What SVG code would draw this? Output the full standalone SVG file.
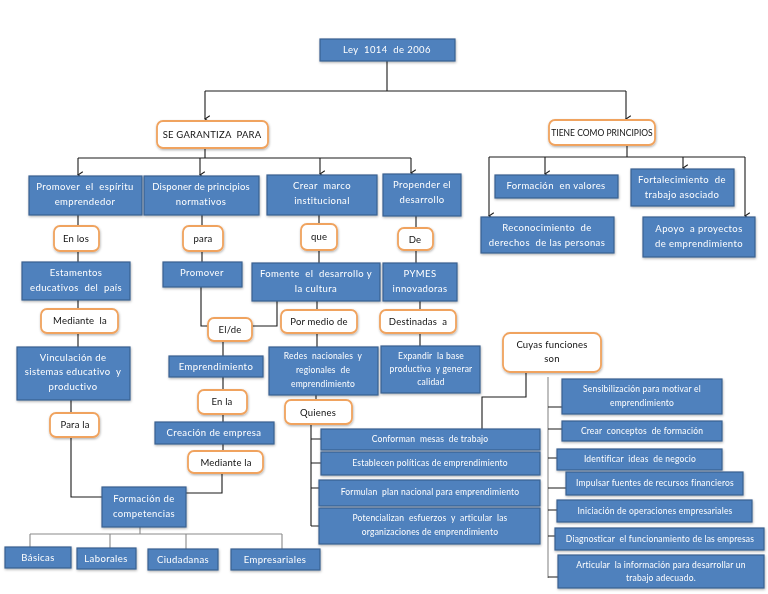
<svg xmlns="http://www.w3.org/2000/svg" width="768" height="594" viewBox="0 0 768 594">
<style>
.b{fill:#4F81BD;stroke:#3A6190;stroke-width:1.2}
.o{fill:#FFFFFF;stroke:#F0A35E;stroke-width:1.8}
.t{font-family:Lato,"Liberation Sans",sans-serif;font-size:9.5px;letter-spacing:0.4px;fill:#FFFFFF;text-anchor:middle;white-space:pre}
.s{font-size:8.5px;letter-spacing:0.2px}
.k{font-family:Lato,"Liberation Sans",sans-serif;font-size:9.5px;letter-spacing:0.2px;fill:#111111;text-anchor:middle;white-space:pre}
.l{fill:none;stroke:#1A1A1A;stroke-width:1.1}
.g{fill:none;stroke:#8A8A8A;stroke-width:1.1}
</style>
<defs>
<marker id="ar" viewBox="0 0 10 10" refX="5" refY="9" markerWidth="8" markerHeight="8" orient="auto-start-reverse" markerUnits="userSpaceOnUse">
<path d="M1,3 L5,9 L9,3" fill="none" stroke="#1A1A1A" stroke-width="1.3"/>
</marker>
<filter id="sh" x="-10%" y="-10%" width="120%" height="130%">
<feDropShadow dx="0.5" dy="1.2" stdDeviation="0.8" flood-color="#000" flood-opacity="0.3"/>
</filter>
</defs>
<rect width="768" height="594" fill="#FFFFFF"/>

<g id="connectors">
<path class="l" d="M387,61 V91 M205,91 H626"/>
<path class="l" d="M205,91 V119" marker-end="url(#ar)"/>
<path class="l" d="M626,91 V119" marker-end="url(#ar)"/>
<path class="l" d="M205,148 V158 M78,158 H411"/>
<path class="l" d="M78,158 V175" marker-end="url(#ar)"/>
<path class="l" d="M200,158 V175" marker-end="url(#ar)"/>
<path class="l" d="M320,158 V174" marker-end="url(#ar)"/>
<path class="l" d="M411,158 V173" marker-end="url(#ar)"/>
<path class="l" d="M627,145 V157 M489,157 H745"/>
<path class="l" d="M489,157 V216" marker-end="url(#ar)"/>
<path class="l" d="M545,157 V174" marker-end="url(#ar)"/>
<path class="l" d="M683,157 V168" marker-end="url(#ar)"/>
<path class="l" d="M745,157 V216" marker-end="url(#ar)"/>
<path class="l" d="M78,215 V262 M202,215 V262 M319,215 V263 M416,216 V263"/>
<path class="l" d="M78,300 V347 M71,400 V497 H102"/>
<path class="l" d="M201,287 V326 H208 M277,301 V326 H252"/>
<path class="l" d="M317,301 V347 M316,395 V400 M420,301 V346"/>
<path class="l" d="M223,342 V422 M223,444 V451 M222,473 V493 H186"/>
<path class="l" d="M311,424 V526 M311,439 H321 M311,463 H321 M311,488 H319 M311,526 H319"/>
<path class="l" d="M526,372 V397 H482 V429"/>
<path class="g" d="M548,377 V578"/>
<path class="l" d="M548,407 H562 M548,429 H562 M548,458 H557 M548,488 H566 M548,510 H557 M548,536 H555 M548,577 H558"/>
<path class="g" d="M140,527 V534 M30,534 H282 M30,534 V547 M110,534 V548 M186,534 V549 M282,534 V549"/>
</g>

<g id="n-ley" filter="url(#sh)"><rect class="b" x="320" y="39" width="135" height="22"/><text class="t" x="387" y="53">Ley  1014  de 2006</text></g>
<g id="n-garantiza" filter="url(#sh)"><rect class="o" x="157" y="121" width="111" height="27" rx="6"/><text class="k" x="212" y="138">SE GARANTIZA  PARA</text></g>
<g id="n-principios" filter="url(#sh)"><rect class="o" x="549" y="120" width="106" height="25" rx="6"/><text class="k" x="602" y="136" style="font-size:8.5px;letter-spacing:0">TIENE COMO PRINCIPIOS</text></g>

<g id="n-promover-espiritu" filter="url(#sh)"><rect class="b" x="29" y="176" width="113" height="39"/><text class="t" x="85" y="190">Promover  el  espíritu</text><text class="t" x="85" y="205">emprendedor</text></g>
<g id="n-disponer" filter="url(#sh)"><rect class="b" x="144" y="176" width="115" height="39"/><text class="t" x="201" y="190" style="letter-spacing:0.2px">Disponer de principios</text><text class="t" x="201" y="205">normativos</text></g>
<g id="n-crear" filter="url(#sh)"><rect class="b" x="267" y="175" width="110" height="40"/><text class="t" x="322" y="189">Crear  marco</text><text class="t" x="322" y="204">institucional</text></g>
<g id="n-propender" filter="url(#sh)"><rect class="b" x="383" y="174" width="78" height="42"/><text class="t" x="422" y="188">Propender el</text><text class="t" x="422" y="203">desarrollo</text></g>

<g id="n-valores" filter="url(#sh)"><rect class="b" x="495" y="175" width="123" height="23"/><text class="t" x="556" y="189">Formación  en valores</text></g>
<g id="n-fortalecimiento" filter="url(#sh)"><rect class="b" x="631" y="169" width="103" height="37"/><text class="t" x="682" y="183">Fortalecimiento  de</text><text class="t" x="682" y="198">trabajo asociado</text></g>
<g id="n-reconocimiento" filter="url(#sh)"><rect class="b" x="481" y="217" width="133" height="36"/><text class="t" x="547" y="231">Reconocimiento  de</text><text class="t" x="547" y="246">derechos  de las personas</text></g>
<g id="n-apoyo" filter="url(#sh)"><rect class="b" x="643" y="217" width="112" height="40"/><text class="t" x="699" y="232">Apoyo  a proyectos</text><text class="t" x="699" y="247">de emprendimiento</text></g>

<g id="n-enlos" filter="url(#sh)"><rect class="o" x="54" y="226" width="45" height="25" rx="6"/><text class="k" x="76" y="242">En los</text></g>
<g id="n-para" filter="url(#sh)"><rect class="o" x="183" y="226" width="40" height="25" rx="6"/><text class="k" x="203" y="242">para</text></g>
<g id="n-que" filter="url(#sh)"><rect class="o" x="301" y="224" width="36" height="26" rx="6"/><text class="k" x="319" y="240">que</text></g>
<g id="n-de" filter="url(#sh)"><rect class="o" x="398" y="228" width="35" height="22" rx="6"/><text class="k" x="415" y="243">De</text></g>

<g id="n-estamentos" filter="url(#sh)"><rect class="b" x="22" y="262" width="108" height="38"/><text class="t" x="76" y="276">Estamentos</text><text class="t" x="76" y="291">educativos  del  país</text></g>
<g id="n-promover" filter="url(#sh)"><rect class="b" x="163" y="262" width="79" height="25"/><text class="t" x="202" y="276">Promover</text></g>
<g id="n-fomente" filter="url(#sh)"><rect class="b" x="252" y="263" width="128" height="38"/><text class="t" x="316" y="277">Fomente  el  desarrollo y</text><text class="t" x="316" y="292">la cultura</text></g>
<g id="n-pymes" filter="url(#sh)"><rect class="b" x="383" y="263" width="74" height="38"/><text class="t" x="420" y="277">PYMES</text><text class="t" x="420" y="292">innovadoras</text></g>

<g id="n-mediante1" filter="url(#sh)"><rect class="o" x="41" y="309" width="77" height="24" rx="6"/><text class="k" x="80" y="324">Mediante  la</text></g>
<g id="n-elde" filter="url(#sh)"><rect class="o" x="208" y="318" width="44" height="23" rx="6"/><text class="k" x="230" y="333">El/de</text></g>
<g id="n-pormedio" filter="url(#sh)"><rect class="o" x="281" y="310" width="76" height="23" rx="6"/><text class="k" x="319" y="325">Por medio de</text></g>
<g id="n-destinadas" filter="url(#sh)"><rect class="o" x="380" y="310" width="76" height="23" rx="6"/><text class="k" x="418" y="325">Destinadas  a</text></g>

<g id="n-vinculacion" filter="url(#sh)"><rect class="b" x="17" y="347" width="113" height="53"/><text class="t" x="73" y="361">Vinculación de</text><text class="t" x="73" y="375">sistemas educativo  y</text><text class="t" x="73" y="390">productivo</text></g>
<g id="n-emprendimiento" filter="url(#sh)"><rect class="b" x="169" y="356" width="94" height="21"/><text class="t" x="216" y="370">Emprendimiento</text></g>
<g id="n-redes" filter="url(#sh)"><rect class="b" x="269" y="347" width="109" height="48"/><text class="t s" x="323" y="359">Redes  nacionales  y</text><text class="t s" x="323" y="373">regionales  de</text><text class="t s" x="323" y="387">emprendimiento</text></g>
<g id="n-expandir" filter="url(#sh)"><rect class="b" x="381" y="346" width="99" height="47"/><text class="t s" x="431" y="359">Expandir  la base</text><text class="t s" x="431" y="372">productiva  y generar</text><text class="t s" x="431" y="385">calidad</text></g>

<g id="n-cuyas" filter="url(#sh)"><rect class="o" x="503" y="333" width="98" height="39" rx="7"/><text class="k" x="552" y="348">Cuyas funciones</text><text class="k" x="552" y="362">son</text></g>

<g id="n-enla" filter="url(#sh)"><rect class="o" x="198" y="390" width="49" height="24" rx="6"/><text class="k" x="222" y="405">En la</text></g>
<g id="n-quienes" filter="url(#sh)"><rect class="o" x="285" y="400" width="67" height="24" rx="6"/><text class="k" x="318" y="416">Quienes</text></g>
<g id="n-parala" filter="url(#sh)"><rect class="o" x="50" y="413" width="49" height="24" rx="6"/><text class="k" x="75" y="428">Para la</text></g>
<g id="n-creacion" filter="url(#sh)"><rect class="b" x="155" y="422" width="119" height="22"/><text class="t" x="214" y="436">Creación de empresa</text></g>
<g id="n-mediante2" filter="url(#sh)"><rect class="o" x="188" y="451" width="75" height="22" rx="6"/><text class="k" x="226" y="466">Mediante la</text></g>

<g id="n-conforman" filter="url(#sh)"><rect class="b" x="321" y="429" width="219" height="21"/><text class="t s" x="430" y="442">Conforman  mesas  de trabajo</text></g>
<g id="n-establecen" filter="url(#sh)"><rect class="b" x="321" y="452" width="219" height="23"/><text class="t s" x="430" y="466">Establecen políticas de emprendimiento</text></g>
<g id="n-formulan" filter="url(#sh)"><rect class="b" x="319" y="480" width="221" height="26"/><text class="t s" x="430" y="495">Formulan  plan nacional para emprendimiento</text></g>
<g id="n-potencializan" filter="url(#sh)"><rect class="b" x="319" y="508" width="221" height="36"/><text class="t s" x="430" y="521">Potencializan  esfuerzos  y  articular  las</text><text class="t s" x="430" y="535">organizaciones de emprendimiento</text></g>

<g id="n-sensibilizacion" filter="url(#sh)"><rect class="b" x="562" y="379" width="160" height="35"/><text class="t s" x="642" y="392">Sensibilización para motivar el</text><text class="t s" x="642" y="406">emprendimiento</text></g>
<g id="n-conceptos" filter="url(#sh)"><rect class="b" x="562" y="421" width="160" height="20"/><text class="t s" x="642" y="434">Crear  conceptos  de formación</text></g>
<g id="n-identificar" filter="url(#sh)"><rect class="b" x="557" y="449" width="165" height="21"/><text class="t s" x="640" y="462">Identificar  ideas  de negocio</text></g>
<g id="n-impulsar" filter="url(#sh)"><rect class="b" x="566" y="472" width="177" height="23"/><text class="t s" x="655" y="486">Impulsar fuentes de recursos financieros</text></g>
<g id="n-iniciacion" filter="url(#sh)"><rect class="b" x="557" y="500" width="195" height="22"/><text class="t s" x="655" y="514">Iniciación de operaciones empresariales</text></g>
<g id="n-diagnosticar" filter="url(#sh)"><rect class="b" x="555" y="528" width="209" height="22"/><text class="t s" x="660" y="542">Diagnosticar  el funcionamiento de las empresas</text></g>
<g id="n-articular" filter="url(#sh)"><rect class="b" x="558" y="555" width="206" height="33"/><text class="t s" x="661" y="568">Articular  la información para desarrollar un</text><text class="t s" x="661" y="581">trabajo adecuado.</text></g>

<g id="n-formacion" filter="url(#sh)"><rect class="b" x="102" y="487" width="84" height="40"/><text class="t" x="144" y="502">Formación de</text><text class="t" x="144" y="517">competencias</text></g>
<g id="n-basicas" filter="url(#sh)"><rect class="b" x="5" y="547" width="66" height="21"/><text class="t" x="38" y="561">Básicas</text></g>
<g id="n-laborales" filter="url(#sh)"><rect class="b" x="77" y="548" width="59" height="21"/><text class="t" x="106" y="562">Laborales</text></g>
<g id="n-ciudadanas" filter="url(#sh)"><rect class="b" x="148" y="549" width="70" height="21"/><text class="t" x="183" y="563">Ciudadanas</text></g>
<g id="n-empresariales" filter="url(#sh)"><rect class="b" x="231" y="549" width="89" height="21"/><text class="t" x="275" y="563">Empresariales</text></g>
</svg>
